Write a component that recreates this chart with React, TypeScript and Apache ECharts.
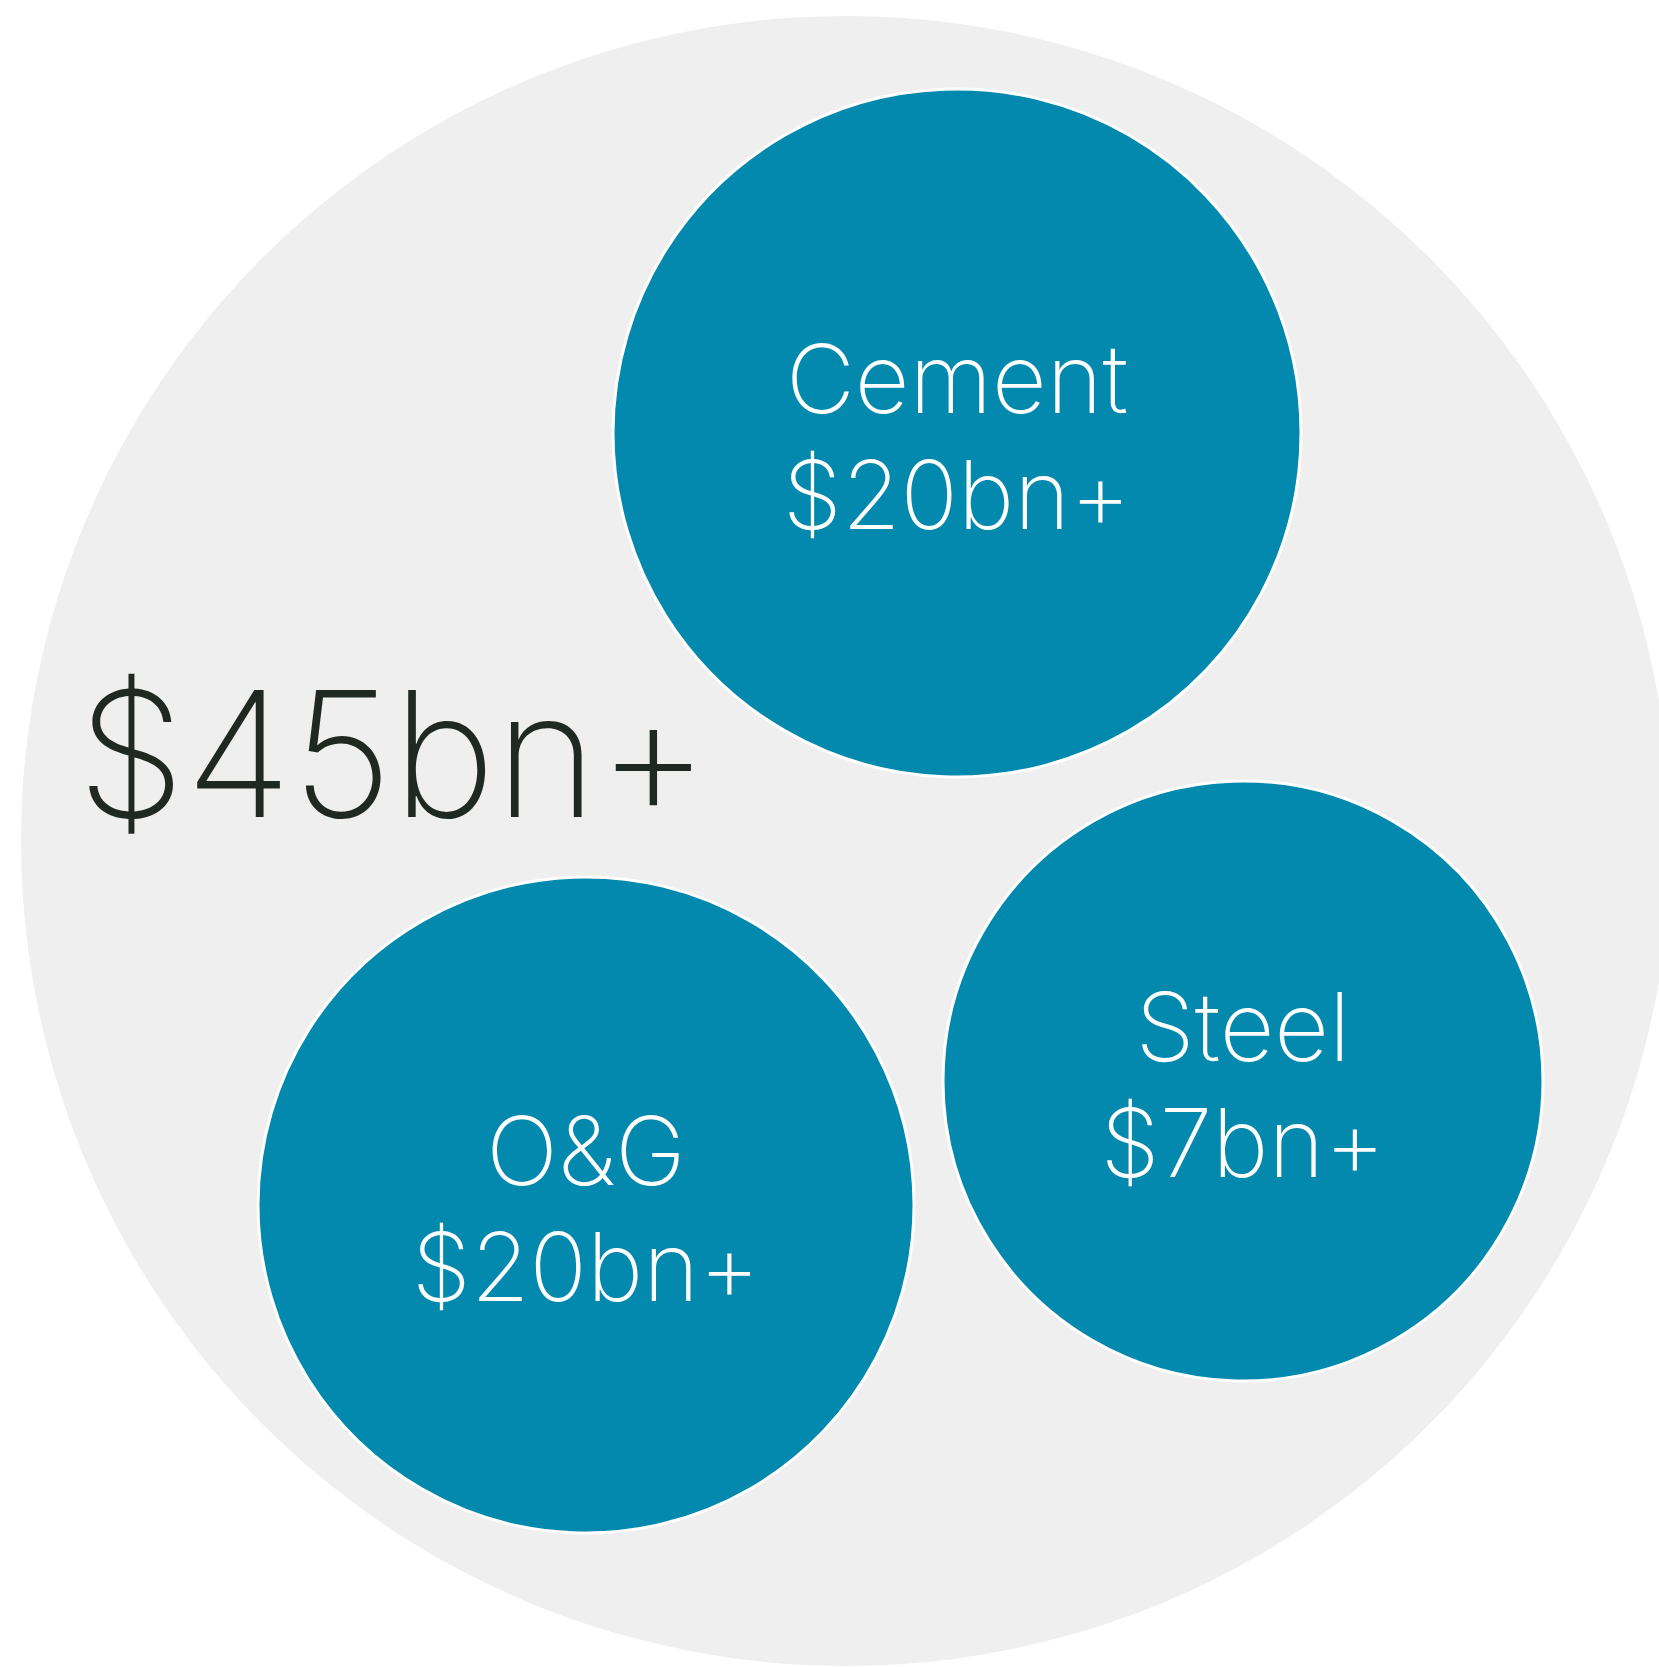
import React, { useEffect, useRef } from "react";
import * as echarts from "echarts";

// Bubble data (abstract plane, 0–1659 across, 0–1667 down)
const categories = ["Total", "Cement", "O&G", "Steel"];
const valueLabels = ["$45bn+", "$20bn+", "$20bn+", "$7bn+"];
const bubbleX = [846, 957, 586, 1243];
const bubbleY = [841, 433, 1205, 1081];
const bubbleR = [825, 344, 328, 300];

const GREY = "#efefef";
const TEAL = "#0389ae";
const DARK = "#1f2921";
const FONT = "Inter";
const WEIGHT = 200;

export default function App() {
  const ref = useRef<HTMLDivElement>(null);
  useEffect(() => {
    document.body.style.margin = "0";
    const chart = echarts.init(ref.current!, null, { renderer: "svg" });
    const data = categories.map((c, i) => [bubbleX[i], bubbleY[i], bubbleR[i], i]);
    chart.setOption({
      animation: false,
      backgroundColor: "#ffffff",
      grid: { left: 0, right: 0, top: 0, bottom: 0 },
      xAxis: { type: "value", min: 0, max: 1659, show: false },
      yAxis: { type: "value", min: 0, max: 1667, inverse: true, show: false },
      series: [
        {
          type: "custom",
          clip: false,
          data,
          renderItem: (params: any, api: any) => {
            const idx = api.value(3);
            const c = api.coord([api.value(0), api.value(1)]);
            const s = api.size([api.value(2), api.value(2)]);
            const r = s[0];
            if (idx === 0) {
              return {
                type: "group",
                children: [
                  { type: "circle", shape: { cx: c[0], cy: c[1], r }, style: { fill: GREY } },
                  {
                    type: "text",
                    x: c[0] - r * 0.932,
                    y: c[1] - 88,
                    style: {
                      text: valueLabels[idx],
                      fill: DARK,
                      fontSize: 174,
                      fontFamily: FONT,
                      fontWeight: 220,
                      align: "left",
                      verticalAlign: "middle",
                    },
                  },
                ],
              };
            }
            return {
              type: "group",
              children: [
                {
                  type: "circle",
                  shape: { cx: c[0], cy: c[1], r },
                  style: { fill: TEAL, stroke: "#ffffff", lineWidth: 3 },
                },
                {
                  type: "text",
                  x: c[0],
                  y: c[1] - 55,
                  style: {
                    text: categories[idx],
                    fill: "#ffffff",
                    fontSize: 95,
                    fontFamily: FONT,
                    fontWeight: WEIGHT,
                    align: "center",
                    verticalAlign: "middle",
                  },
                },
                {
                  type: "text",
                  x: c[0],
                  y: c[1] + 61,
                  style: {
                    text: valueLabels[idx],
                    fill: "#ffffff",
                    fontSize: 95,
                    fontFamily: FONT,
                    fontWeight: WEIGHT,
                    align: "center",
                    verticalAlign: "middle",
                  },
                },
              ],
            };
          },
        },
      ],
    });
    return () => chart.dispose();
  }, []);
  return <div ref={ref} style={{ width: 1659, height: 1667 }} />;
}
